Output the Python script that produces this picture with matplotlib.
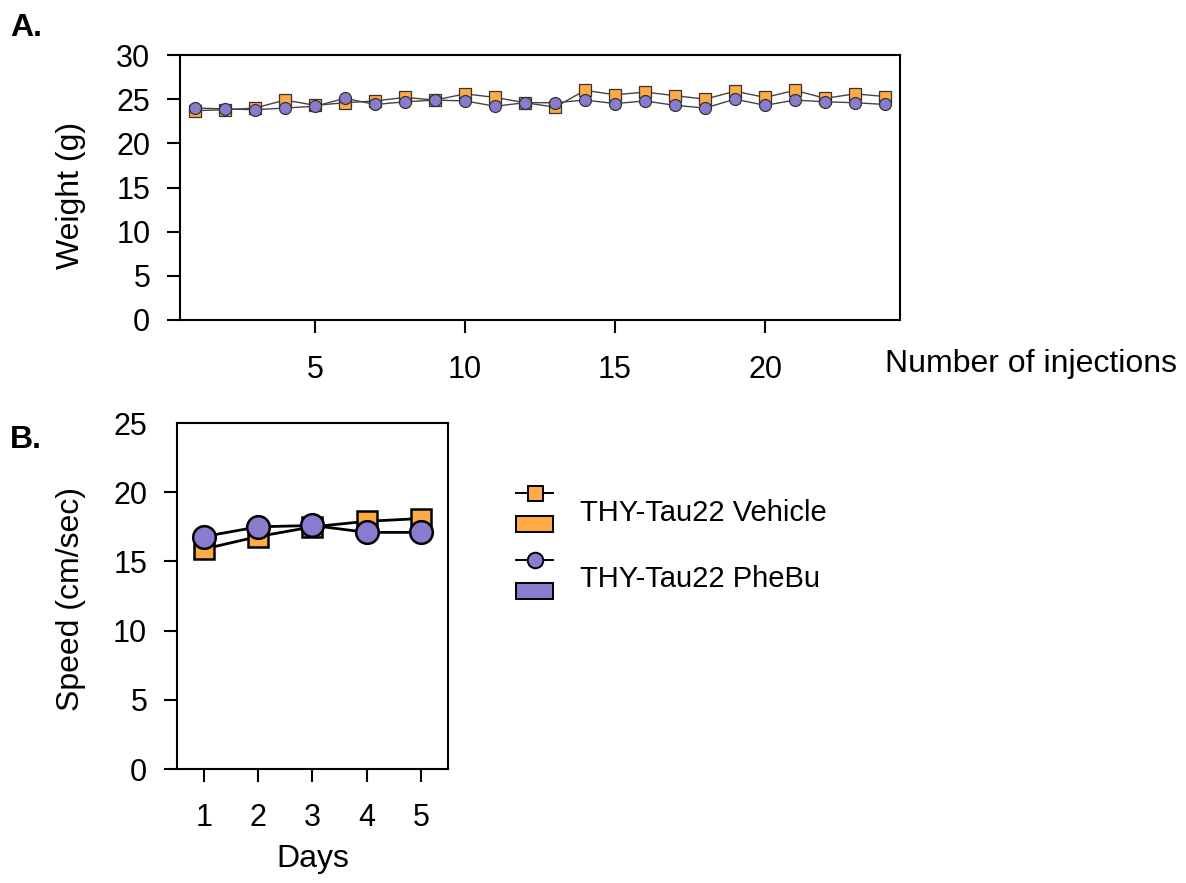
import matplotlib
matplotlib.use("Agg")
import matplotlib.pyplot as plt
from matplotlib.lines import Line2D
from matplotlib.patches import Rectangle, Patch
from matplotlib.legend_handler import HandlerBase

plt.rcParams['font.family'] = ['Liberation Sans', 'DejaVu Sans']

ORANGE = "#FFAB45"
PURPLE = "#8A7BCF"

# --- data ---
injections = list(range(1, 25))
vehicle_weight = [23.7, 23.8, 24.0, 24.9, 24.3, 24.6, 24.8, 25.2, 24.9, 25.6, 25.2, 24.6,
                  24.1, 26.0, 25.5, 25.8, 25.4, 25.0, 25.9, 25.2, 26.0, 25.1, 25.6, 25.3]
phebu_weight = [24.0, 23.9, 23.8, 24.0, 24.2, 25.1, 24.4, 24.7, 24.9, 24.8, 24.2, 24.6,
                24.6, 24.9, 24.5, 24.8, 24.3, 24.0, 25.0, 24.3, 24.9, 24.7, 24.6, 24.4]

days = [1, 2, 3, 4, 5]
vehicle_speed = [15.9, 16.8, 17.5, 17.9, 18.1]
phebu_speed = [16.8, 17.5, 17.6, 17.1, 17.1]

labels = ["THY-Tau22 Vehicle", "THY-Tau22 PheBu"]

TICK_FS = 22
LABEL_FS = 23


class StackHandler(HandlerBase):
    # marker+line on top, filled bar underneath (SigmaPlot style legend)
    def create_artists(self, legend, orig_handle, xdescent, ydescent,
                       width, height, fontsize, trans):
        line, patch = orig_handle
        mid = 0.358 * fontsize
        ly = mid + 12.2
        l = Line2D([0, width], [ly, ly], color="black", lw=1.4,
                   transform=trans)
        m = Line2D([width / 2], [ly], marker=line.get_marker(),
                   markersize=line.get_markersize(),
                   markerfacecolor=line.get_markerfacecolor(),
                   markeredgecolor="black", markeredgewidth=1.4,
                   linestyle="none", transform=trans)
        r = Rectangle((0, mid - 15.8), width, 11.5,
                      facecolor=patch.get_facecolor(), edgecolor="black",
                      lw=1.4, transform=trans)
        return [l, r, m]


fig = plt.figure(figsize=(11.86, 8.83), dpi=100)

# --- A: weight ---
axA = fig.add_axes([0.1518, 0.6376, 0.6071, 0.3001])
axA.plot(injections, vehicle_weight, color="#444444", lw=1.0, marker="s",
         markersize=8, markerfacecolor=ORANGE, markeredgecolor="#333333",
         markeredgewidth=0.9, zorder=3)
axA.plot(injections, phebu_weight, color="#444444", lw=1.0, marker="o",
         markersize=8.6, markerfacecolor=PURPLE, markeredgecolor="#333333",
         markeredgewidth=0.9, zorder=4)
axA.set_xlim(0.5, 24.5)
axA.set_ylim(0, 30)
axA.set_xticks([5, 10, 15, 20])
axA.set_yticks([0, 5, 10, 15, 20, 25, 30])
axA.tick_params(axis="both", direction="out", length=9.4, width=1.5,
                labelsize=TICK_FS)
axA.tick_params(axis="x", pad=16)
axA.tick_params(axis="y", pad=12)
axA.set_ylabel("Weight (g)", fontsize=LABEL_FS, va="center")
axA.yaxis.set_label_coords(-0.152, 0.47)
axA.set_xlabel("Number of injections", fontsize=LABEL_FS, ha="left",
               va="center")
axA.xaxis.set_label_coords(0.979, -0.166)
for s in axA.spines.values():
    s.set_linewidth(1.5)

# --- B: speed ---
axB = fig.add_axes([0.1492, 0.1291, 0.2285, 0.3918])
axB.plot(days, vehicle_speed, color="black", lw=2.0, marker="s",
         markersize=14.5, markerfacecolor=ORANGE, markeredgecolor="black",
         markeredgewidth=1.8, zorder=3)
axB.plot(days, phebu_speed, color="black", lw=2.0, marker="o",
         markersize=16.3, markerfacecolor=PURPLE, markeredgecolor="black",
         markeredgewidth=1.8, zorder=4)
axB.set_xlim(0.5, 5.5)
axB.set_ylim(0, 25)
axB.set_xticks(days)
axB.set_yticks([0, 5, 10, 15, 20, 25])
axB.tick_params(axis="both", direction="out", length=9.4, width=1.5,
                labelsize=TICK_FS)
axB.tick_params(axis="x", pad=15)
axB.tick_params(axis="y", pad=12)
axB.yaxis.get_major_ticks()[-1].tick1line.set_visible(False)
axB.set_xlabel("Days", fontsize=LABEL_FS, labelpad=8)
axB.set_ylabel("Speed (cm/sec)", fontsize=LABEL_FS, va="center")
axB.yaxis.set_label_coords(-0.39, 0.49)
for s in axB.spines.values():
    s.set_linewidth(1.5)

handles = [
    (Line2D([], [], marker="s", markersize=10.8, markerfacecolor=ORANGE),
     Patch(facecolor=ORANGE)),
    (Line2D([], [], marker="o", markersize=11.2, markerfacecolor=PURPLE),
     Patch(facecolor=PURPLE)),
]
fig.legend(handles, labels, handler_map={tuple: StackHandler()},
           loc="upper left", bbox_to_anchor=(516 / 1186, 1 - 489 / 883),
           bbox_transform=fig.transFigure, frameon=False, fontsize=21,
           borderpad=0, borderaxespad=0, handlelength=1.27, handleheight=2,
           handletextpad=0.92, labelspacing=0.74)

fig.text(10 / 1186, 1 - 28 / 883, "A.", fontsize=23, fontweight="bold",
         va="center", ha="left")
fig.text(10 / 1186, 1 - 440 / 883, "B.", fontsize=23, fontweight="bold",
         va="center", ha="left")

fig.savefig("out.png", dpi=100)
